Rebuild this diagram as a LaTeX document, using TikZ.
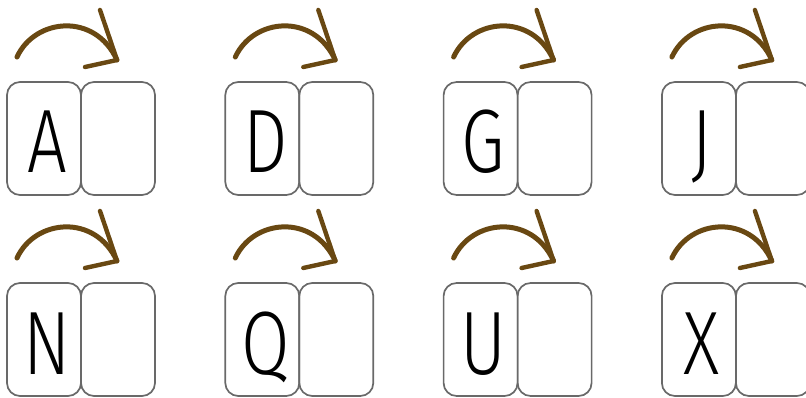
\documentclass[tikz,border=0pt]{standalone}
\usepackage{fontspec}
\setmainfont{Fira Sans}[UprightFont=* Light, FakeStretch=0.78]
\usetikzlibrary{positioning}
\definecolor{arrowbrown}{RGB}{105,72,18}
\definecolor{boxgray}{RGB}{105,105,105}
\tikzset{
  tile/.style={rectangle, draw=boxgray, line width=1.7pt, rounded corners=13pt, minimum width=74pt, minimum height=113pt, inner sep=0pt, outer sep=0pt},
  letter/.style={font=\fontsize{90}{90}\selectfont, inner sep=0pt, anchor=base},
  turn/.style={draw=arrowbrown, line width=5pt, line cap=round, line join=round},
}
\begin{document}
\begin{tikzpicture}[x=1pt,y=-1pt]
\useasboundingbox (0,0) rectangle (806,398);
\foreach \l [count=\i from 0] in {A,D,G,J,N,Q,U,X} {
  \pgfmathsetmacro{\col}{mod(\i,4)}
  \pgfmathsetmacro{\row}{int(\i/4)}
  \pgfmathsetmacro{\xx}{7+218.3*\col}
  \pgfmathsetmacro{\yy}{201*\row}
  % letter tile and empty tile
  \node[tile] (L\l) at (\xx+37,\yy+138.5) {};
  \node[tile, right=0pt of L\l] (R\l) {};
  \node[letter] (T\l) at (\xx+40,\yy+173) {\l};
  % curved arrow above the pair
  \coordinate (s\l) at (\xx+10,\yy+57);
  \coordinate (e\l) at (\xx+110,\yy+60);
  \coordinate (u\l) at (\xx+93,\yy+10);
  \coordinate (d\l) at (\xx+78,\yy+67);
  \draw[turn] (s\l) .. controls +(18,-39) and +(-22,-48) .. (e\l);
  \draw[turn, line width=4.4pt] (u\l) -- (e\l) -- (d\l);
}
\end{tikzpicture}
\end{document}
